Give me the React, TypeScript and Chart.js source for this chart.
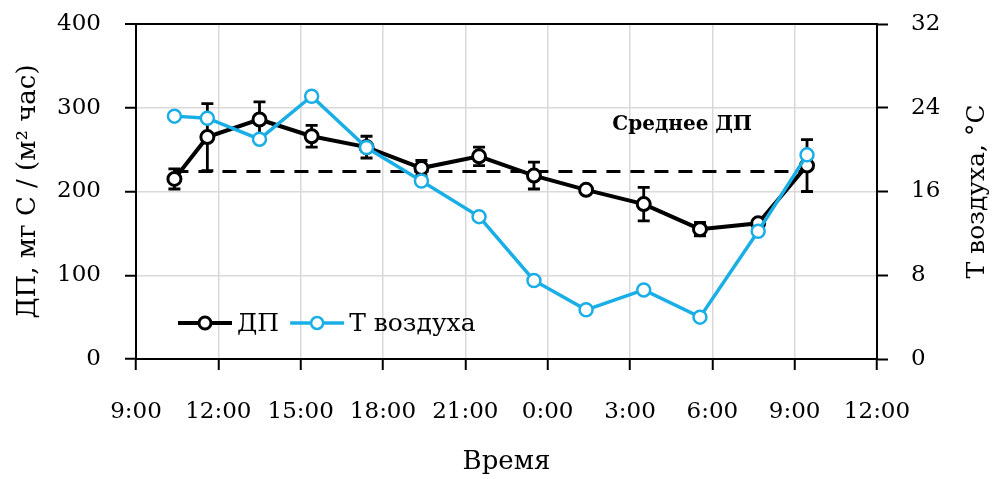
import React, { useEffect, useRef } from "react";
import { Chart, registerables } from "chart.js";

Chart.register(...registerables);

// ---- data ----
const TIMES = [10.4, 11.6, 13.5, 15.4, 17.4, 19.4, 21.5, 23.5, 25.4, 27.5, 29.55, 31.67, 33.45];
const DP = [215, 265, 286, 266, 253, 228, 242, 219, 202, 185, 155, 162, 231];
const DP_ERR = [12, 40, 21, 13, 13, 9, 11, 16, 3, 20, 8, 4, 31];
const T_AIR = [23.2, 23.0, 21.0, 25.1, 20.2, 17.0, 13.6, 7.5, 4.7, 6.6, 4.0, 12.2, 19.5];
const DP_MEAN = 224;
const X_TICK_LABELS = ["9:00", "12:00", "15:00", "18:00", "21:00", "0:00", "3:00", "6:00", "9:00", "12:00"];
const MEAN_LABEL = "Среднее ДП";
const MEAN_LABEL_POS = { x: 28.9, y: 280 };

const FONT = "'DejaVu Serif', serif";
const BLUE = "#1aaee6";

export default function App() {
  const ref = useRef<HTMLCanvasElement | null>(null);

  useEffect(() => {
    const canvas = ref.current;
    if (!canvas) return;

    const errorBars = {
      id: "errorBars",
      beforeDatasetsDraw(chart: any) {
        const { ctx, scales } = chart;
        const xs = scales.x, ys = scales.y;
        ctx.save();
        ctx.strokeStyle = "#000";
        ctx.lineWidth = 2.8;
        for (let i = 0; i < DP.length; i++) {
          const x = xs.getPixelForValue(TIMES[i]);
          const t = ys.getPixelForValue(DP[i] + DP_ERR[i]);
          const b = ys.getPixelForValue(DP[i] - DP_ERR[i]);
          ctx.beginPath();
          ctx.moveTo(x, t); ctx.lineTo(x, b);
          ctx.moveTo(x - 6, t); ctx.lineTo(x + 6, t);
          ctx.moveTo(x - 6, b); ctx.lineTo(x + 6, b);
          ctx.stroke();
        }
        ctx.restore();
      },
    };

    const decor = {
      id: "decor",
      afterDraw(chart: any) {
        const { ctx, chartArea, scales } = chart;
        ctx.save();
        // mean label
        ctx.font = `bold 20px ${FONT}`;
        ctx.fillStyle = "#000";
        ctx.textAlign = "center";
        ctx.textBaseline = "middle";
        ctx.fillText(MEAN_LABEL, scales.x.getPixelForValue(MEAN_LABEL_POS.x), scales.y.getPixelForValue(MEAN_LABEL_POS.y));

        // right axis title (reads bottom-to-top)
        ctx.save();
        ctx.translate(scales.y2.right - 17, (chartArea.top + chartArea.bottom) / 2);
        ctx.rotate(-Math.PI / 2);
        ctx.font = `25px ${FONT}`;
        ctx.fillText("Т воздуха, °С", 0, 0);
        ctx.restore();

        // legend inside plot
        const items = chart.data.datasets.filter((d: any) => d.label).slice().reverse();
        let x = chartArea.left + 42;
        const y = chartArea.bottom - 36;
        ctx.font = `25px ${FONT}`;
        ctx.textAlign = "left";
        for (const d of items) {
          ctx.strokeStyle = d.borderColor;
          ctx.lineWidth = d.borderWidth;
          ctx.beginPath();
          ctx.moveTo(x, y); ctx.lineTo(x + 54, y);
          ctx.stroke();
          ctx.beginPath();
          ctx.arc(x + 27, y, 6, 0, Math.PI * 2);
          ctx.fillStyle = "#fff";
          ctx.fill();
          ctx.lineWidth = d.pointBorderWidth;
          ctx.stroke();
          ctx.fillStyle = "#000";
          ctx.fillText(d.label, x + 59, y + 1);
          x += 59 + ctx.measureText(d.label).width + 11;
        }
        ctx.restore();
      },
    };

    const fitV = (w: number) => (s: any) => {
      s.width = w;
      s.paddingTop = 0;
      s.paddingBottom = 0;
    };

    const chart = new Chart(canvas, {
      type: "line",
      data: {
        datasets: [
          {
            label: "Т воздуха",
            data: TIMES.map((t, i) => ({ x: t, y: T_AIR[i] })),
            yAxisID: "y2",
            borderColor: BLUE,
            borderWidth: 3.5,
            pointRadius: 6.5,
            pointBorderWidth: 2.5,
            pointBackgroundColor: "#fff",
            pointBorderColor: BLUE,
            order: 0,
          },
          {
            label: "ДП",
            data: TIMES.map((t, i) => ({ x: t, y: DP[i] })),
            yAxisID: "y",
            borderColor: "#000",
            borderWidth: 4,
            pointRadius: 6.5,
            pointBorderWidth: 3,
            pointBackgroundColor: "#fff",
            pointBorderColor: "#000",
            order: 1,
          },
          {
            label: "",
            data: [
              { x: TIMES[0], y: DP_MEAN },
              { x: TIMES[TIMES.length - 1], y: DP_MEAN },
            ],
            yAxisID: "y",
            borderColor: "#000",
            borderWidth: 3,
            borderDash: [14, 10],
            pointRadius: 0,
            order: 2,
          },
        ],
      },
      options: {
        responsive: false,
        animation: false,
        layout: { padding: { top: 24, left: 0, right: 0, bottom: 0 } },
        plugins: { legend: { display: false }, tooltip: { enabled: false } },
        scales: {
          x: {
            type: "linear",
            min: 9,
            max: 36,
            afterFit: (s: any) => { s.height = 120; s.paddingLeft = 0; s.paddingRight = 0; },
            afterBuildTicks: (s: any) => {
              const arr = [];
              for (let v = 9; v <= 36; v += 3) arr.push({ value: v });
              s.ticks = arr;
            },
            ticks: {
              color: "#000",
              font: { family: FONT, size: 23 },
              padding: 28,
              maxRotation: 0,
              callback: (_v: any, i: number) => X_TICK_LABELS[i],
            },
            grid: { color: "#d9d9d9", lineWidth: 1.5, tickColor: "#000", tickLength: 11, tickWidth: 2 },
            border: { color: "#000", width: 2 },
            title: { display: true, text: "Время", color: "#000", font: { family: FONT, size: 26 }, padding: { top: 0, bottom: 1.5 } },
          },
          y: {
            position: "left",
            min: 0,
            max: 400,
            afterFit: fitV(136),
            ticks: { stepSize: 100, color: "#000", font: { family: FONT, size: 23 }, padding: 24 },
            grid: {
              color: (c: any) => (c.tick && c.tick.value === 400 ? "#000" : "#d9d9d9"),
              lineWidth: (c: any) => (c.tick && c.tick.value === 400 ? 2 : 1.5),
              tickColor: "#000",
              tickLength: 11,
              tickWidth: 2,
            },
            border: { color: "#000", width: 2 },
            title: { display: true, text: "ДП, мг С / (м² час)", color: "#000", font: { family: FONT, size: 26 }, padding: { top: 13, bottom: 0 } },
          },
          y2: {
            position: "right",
            min: 0,
            max: 32,
            afterFit: fitV(117),
            ticks: { stepSize: 8, color: "#000", font: { family: FONT, size: 23 }, padding: 23 },
            grid: { drawOnChartArea: false, tickColor: "#000", tickLength: 11, tickWidth: 2 },
            border: { color: "#000", width: 2 },
          },
        },
      } as any,
      plugins: [errorBars, decor],
    });

    return () => chart.destroy();
  }, []);

  return (
    <div style={{ position: "fixed", left: 0, top: 0, width: 994, height: 479, background: "#fff" }}>
      <canvas ref={ref} width={994} height={479} />
    </div>
  );
}
